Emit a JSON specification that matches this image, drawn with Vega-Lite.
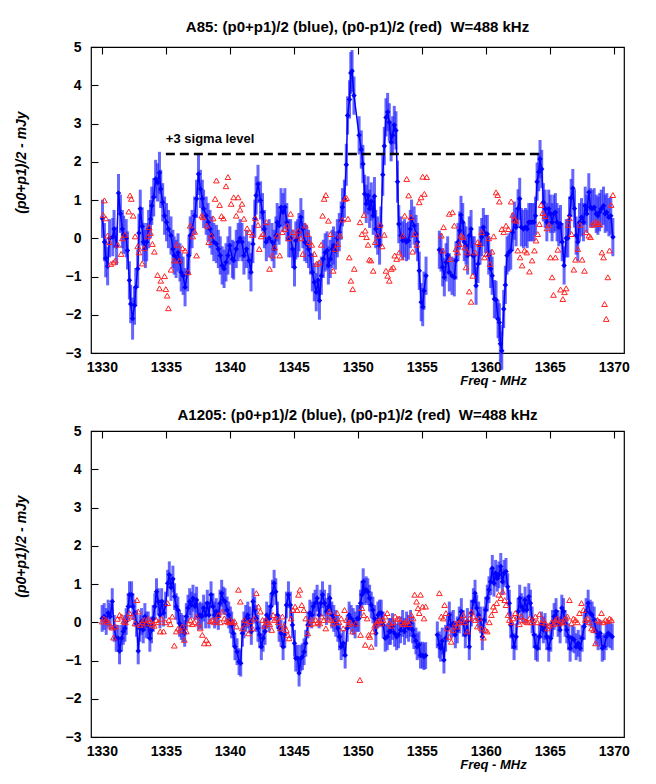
{
"$schema": "https://vega.github.io/schema/vega-lite/v6.json",
"background": "white",
"padding": {"left": 13, "top": 19, "right": 10, "bottom": 5},
"bounds": "flush",
"spacing": 78,
"config": {
  "font": "Liberation Sans",
  "view": {"stroke": "#000", "strokeWidth": 1.2},
  "axis": {"ticks": false, "labelFont": "Liberation Sans", "labelFontSize": 14, "labelFontWeight": "bold", "labelColor": "#000", "domain": false, "grid": true, "gridColor": "#000", "gridOpacity": 1, "gridWidth": 1.1, "labelOverlap": false, "labelFlush": false, "titleFont": "Liberation Sans", "titleFontSize": 13, "titleFontWeight": "bold", "titleFontStyle": "italic", "titleColor": "#000"},
  "title": {"font": "Liberation Sans", "fontSize": 15, "fontWeight": "bold", "color": "#000", "offset": 5, "baseline": "alphabetic"}
},
"datasets": {
"blueA": [
{"f":1330.05,"v":0.51,"e":0.5},{"f":1330.2,"v":-0.1,"e":0.5},{"f":1330.3,"v":-0.52,"e":0.5},{"f":1330.45,"v":-0.73,"e":0.5},{"f":1330.6,"v":0,"e":0.5},{"f":1330.85,"v":0.03,"e":0.5},{"f":1330.95,"v":0.24,"e":0.5},{"f":1331.15,"v":-0.2,"e":0.5},{"f":1331.3,"v":1.18,"e":0.5},{"f":1331.45,"v":0.64,"e":0.5},{"f":1331.6,"v":0.24,"e":0.5},{"f":1331.7,"v":0.09,"e":0.5},{"f":1331.9,"v":0,"e":0.5},{"f":1332.0,"v":-0.32,"e":0.5},{"f":1332.15,"v":-1.1,"e":0.5},{"f":1332.25,"v":-1.72,"e":0.5},{"f":1332.4,"v":-2.1,"e":0.55},{"f":1332.55,"v":-1.76,"e":0.5},{"f":1332.65,"v":-1.28,"e":0.5},{"f":1332.8,"v":-0.8,"e":0.5},{"f":1332.9,"v":0.14,"e":0.5},{"f":1333.0,"v":0.77,"e":0.5},{"f":1333.15,"v":0.31,"e":0.5},{"f":1333.25,"v":-0.1,"e":0.5},{"f":1333.4,"v":-0.28,"e":0.5},{"f":1333.5,"v":-0.1,"e":0.5},{"f":1333.65,"v":0.24,"e":0.5},{"f":1333.8,"v":0.5,"e":0.5},{"f":1333.9,"v":0.85,"e":0.5},{"f":1334.05,"v":1.07,"e":0.5},{"f":1334.2,"v":1.55,"e":0.5},{"f":1334.35,"v":1.46,"e":0.5},{"f":1334.5,"v":1.71,"e":0.55},{"f":1334.6,"v":1.29,"e":0.5},{"f":1334.75,"v":0.94,"e":0.5},{"f":1334.9,"v":0.59,"e":0.5},{"f":1335.05,"v":0.42,"e":0.5},{"f":1335.2,"v":0.24,"e":0.5},{"f":1335.4,"v":0.07,"e":0.5},{"f":1335.55,"v":-0.28,"e":0.5},{"f":1335.65,"v":-0.45,"e":0.5},{"f":1335.8,"v":-0.54,"e":0.5},{"f":1335.95,"v":-0.37,"e":0.5},{"f":1336.1,"v":-0.63,"e":0.5},{"f":1336.2,"v":-0.89,"e":0.5},{"f":1336.35,"v":-0.98,"e":0.5},{"f":1336.5,"v":-1.28,"e":0.5},{"f":1336.7,"v":-0.89,"e":0.5},{"f":1336.8,"v":-0.45,"e":0.5},{"f":1336.9,"v":0.07,"e":0.5},{"f":1337.05,"v":0.24,"e":0.5},{"f":1337.25,"v":0.59,"e":0.5},{"f":1337.4,"v":1.03,"e":0.5},{"f":1337.55,"v":1.68,"e":0.55},{"f":1337.7,"v":1.29,"e":0.5},{"f":1337.85,"v":1.03,"e":0.5},{"f":1337.95,"v":0.77,"e":0.5},{"f":1338.15,"v":0.59,"e":0.5},{"f":1338.3,"v":0.42,"e":0.5},{"f":1338.45,"v":0.24,"e":0.5},{"f":1338.6,"v":0.07,"e":0.5},{"f":1338.75,"v":-0.1,"e":0.5},{"f":1338.95,"v":-0.15,"e":0.5},{"f":1339.1,"v":-0.28,"e":0.5},{"f":1339.25,"v":-0.45,"e":0.5},{"f":1339.4,"v":-0.71,"e":0.5},{"f":1339.55,"v":-0.8,"e":0.5},{"f":1339.7,"v":-0.63,"e":0.5},{"f":1339.85,"v":-0.45,"e":0.5},{"f":1340.0,"v":-0.19,"e":0.5},{"f":1340.2,"v":-0.54,"e":0.5},{"f":1340.3,"v":-0.58,"e":0.5},{"f":1340.5,"v":-0.28,"e":0.5},{"f":1340.65,"v":-0.1,"e":0.5},{"f":1340.8,"v":0,"e":0.5},{"f":1340.95,"v":-0.1,"e":0.5},{"f":1341.1,"v":-0.45,"e":0.5},{"f":1341.3,"v":-0.28,"e":0.5},{"f":1341.5,"v":-0.58,"e":0.5},{"f":1341.65,"v":-0.89,"e":0.5},{"f":1341.8,"v":-0.15,"e":0.5},{"f":1341.95,"v":0.51,"e":0.5},{"f":1342.05,"v":1.12,"e":0.5},{"f":1342.2,"v":1.42,"e":0.5},{"f":1342.4,"v":0.99,"e":0.5},{"f":1342.55,"v":0.68,"e":0.5},{"f":1342.7,"v":0.24,"e":0.5},{"f":1342.85,"v":-0.1,"e":0.5},{"f":1343.07,"v":0,"e":0.5},{"f":1343.3,"v":-0.1,"e":0.5},{"f":1343.45,"v":-0.28,"e":0.5},{"f":1343.6,"v":0.07,"e":0.5},{"f":1343.7,"v":0.42,"e":0.5},{"f":1343.85,"v":0.33,"e":0.5},{"f":1344.0,"v":0.81,"e":0.5},{"f":1344.15,"v":0.68,"e":0.5},{"f":1344.3,"v":0.81,"e":0.5},{"f":1344.45,"v":0.42,"e":0.5},{"f":1344.6,"v":0,"e":0.5},{"f":1344.75,"v":0,"e":0.5},{"f":1344.9,"v":-0.28,"e":0.5},{"f":1345.05,"v":-0.76,"e":0.5},{"f":1345.15,"v":-0.06,"e":0.5},{"f":1345.3,"v":0,"e":0.5},{"f":1345.4,"v":0.16,"e":0.5},{"f":1345.55,"v":0.55,"e":0.5},{"f":1345.7,"v":0.24,"e":0.5},{"f":1345.85,"v":-0.1,"e":0.5},{"f":1346.0,"v":-0.15,"e":0.5},{"f":1346.15,"v":-0.28,"e":0.5},{"f":1346.3,"v":-0.45,"e":0.5},{"f":1346.45,"v":-0.89,"e":0.5},{"f":1346.6,"v":-1.15,"e":0.5},{"f":1346.75,"v":-1.41,"e":0.5},{"f":1346.9,"v":-1.1,"e":0.5},{"f":1347.0,"v":-1.63,"e":0.5},{"f":1347.15,"v":-0.98,"e":0.5},{"f":1347.3,"v":-0.54,"e":0.5},{"f":1347.45,"v":-0.37,"e":0.5},{"f":1347.6,"v":-0.32,"e":0.5},{"f":1347.7,"v":-0.71,"e":0.5},{"f":1347.85,"v":-0.54,"e":0.5},{"f":1348.0,"v":-0.28,"e":0.5},{"f":1348.1,"v":-0.19,"e":0.5},{"f":1348.25,"v":-0.32,"e":0.5},{"f":1348.4,"v":0,"e":0.5},{"f":1348.55,"v":0.16,"e":0.5},{"f":1348.7,"v":0.46,"e":0.5},{"f":1348.8,"v":0.81,"e":0.5},{"f":1348.95,"v":1.03,"e":0.5},{"f":1349.1,"v":1.92,"e":0.55},{"f":1349.2,"v":3.21,"e":0.5},{"f":1349.35,"v":3.63,"e":0.5},{"f":1349.45,"v":4.32,"e":0.55},{"f":1349.55,"v":4.37,"e":0.55},{"f":1349.7,"v":3.73,"e":0.5},{"f":1350.1,"v":2.69,"e":0.5},{"f":1350.27,"v":2.32,"e":0.5},{"f":1350.4,"v":1.94,"e":0.5},{"f":1350.53,"v":1.16,"e":0.5},{"f":1350.66,"v":0.9,"e":0.5},{"f":1350.8,"v":1.12,"e":0.5},{"f":1350.92,"v":0.77,"e":0.5},{"f":1351.05,"v":0.96,"e":0.5},{"f":1351.2,"v":0.59,"e":0.5},{"f":1351.3,"v":1.1,"e":0.5},{"f":1351.4,"v":0.24,"e":0.5},{"f":1351.55,"v":0.07,"e":0.5},{"f":1351.7,"v":-0.19,"e":0.5},{"f":1351.8,"v":0.33,"e":0.5},{"f":1351.95,"v":1.66,"e":0.55},{"f":1352.07,"v":2.41,"e":0.5},{"f":1352.2,"v":3.16,"e":0.5},{"f":1352.33,"v":3.3,"e":0.5},{"f":1352.46,"v":3.03,"e":0.5},{"f":1352.6,"v":2.51,"e":0.5},{"f":1352.72,"v":2.69,"e":0.5},{"f":1352.85,"v":2.96,"e":0.5},{"f":1352.98,"v":2.82,"e":0.5},{"f":1353.1,"v":1.48,"e":0.55},{"f":1353.2,"v":0.37,"e":0.5},{"f":1353.35,"v":0.07,"e":0.5},{"f":1353.5,"v":-0.06,"e":0.5},{"f":1353.65,"v":0,"e":0.5},{"f":1353.8,"v":-0.1,"e":0.5},{"f":1353.95,"v":-0.06,"e":0.5},{"f":1354.1,"v":0.24,"e":0.5},{"f":1354.2,"v":0.51,"e":0.5},{"f":1354.4,"v":0.33,"e":0.5},{"f":1354.55,"v":0.11,"e":0.5},{"f":1354.67,"v":-0.1,"e":0.5},{"f":1354.8,"v":-0.85,"e":0.5},{"f":1354.95,"v":-1.67,"e":0.5},{"f":1355.07,"v":-1.8,"e":0.5},{"f":1355.17,"v":-1.37,"e":0.5},{"f":1355.33,"v":-0.98,"e":0.5},{"f":1355.9,"v":null,"e":null},{"f":1356.37,"v":-0.3,"e":0.5},{"f":1356.5,"v":-0.37,"e":0.5},{"f":1356.63,"v":-0.76,"e":0.5},{"f":1356.76,"v":-1.02,"e":0.5},{"f":1356.9,"v":-0.63,"e":0.5},{"f":1357.02,"v":-0.45,"e":0.5},{"f":1357.15,"v":-0.89,"e":0.5},{"f":1357.36,"v":-0.98,"e":0.5},{"f":1357.54,"v":-1.02,"e":0.5},{"f":1357.67,"v":-0.58,"e":0.5},{"f":1357.83,"v":-0.1,"e":0.5},{"f":1357.96,"v":0.2,"e":0.5},{"f":1358.06,"v":0.61,"e":0.5},{"f":1358.2,"v":0.42,"e":0.5},{"f":1358.32,"v":-0.1,"e":0.5},{"f":1358.45,"v":-0.19,"e":0.5},{"f":1358.58,"v":-0.45,"e":0.5},{"f":1358.71,"v":0.07,"e":0.5},{"f":1358.85,"v":0.24,"e":0.5},{"f":1358.98,"v":-0.45,"e":0.5},{"f":1359.1,"v":-0.45,"e":0.5},{"f":1359.24,"v":-1.24,"e":0.5},{"f":1359.39,"v":-0.67,"e":0.5},{"f":1359.55,"v":-0.19,"e":0.5},{"f":1359.68,"v":0.03,"e":0.5},{"f":1359.81,"v":0.29,"e":0.5},{"f":1359.97,"v":0.11,"e":0.5},{"f":1360.12,"v":0.11,"e":0.5},{"f":1360.23,"v":-0.45,"e":0.5},{"f":1360.38,"v":-0.8,"e":0.5},{"f":1360.5,"v":-0.98,"e":0.5},{"f":1360.67,"v":-1.59,"e":0.5},{"f":1360.8,"v":-1.61,"e":0.5},{"f":1360.96,"v":-2.11,"e":0.5},{"f":1361.06,"v":-2.2,"e":0.5},{"f":1361.14,"v":-2.76,"e":0.5},{"f":1361.25,"v":-2.94,"e":0.5},{"f":1361.4,"v":-1.85,"e":0.5},{"f":1361.53,"v":-1.22,"e":0.5},{"f":1361.66,"v":-0.45,"e":0.5},{"f":1361.8,"v":-0.37,"e":0.5},{"f":1361.95,"v":-0.32,"e":0.5},{"f":1362.1,"v":0.16,"e":0.5},{"f":1362.24,"v":0.46,"e":0.5},{"f":1362.37,"v":0.29,"e":0.5},{"f":1362.52,"v":0.78,"e":0.5},{"f":1362.65,"v":1.03,"e":0.55},{"f":1362.78,"v":0.29,"e":0.5},{"f":1362.94,"v":0.24,"e":0.5},{"f":1363.1,"v":0.29,"e":0.5},{"f":1363.23,"v":0.24,"e":0.5},{"f":1363.36,"v":0.42,"e":0.5},{"f":1363.49,"v":0.42,"e":0.5},{"f":1363.62,"v":0.42,"e":0.5},{"f":1363.77,"v":0.42,"e":0.5},{"f":1363.88,"v":0.59,"e":0.5},{"f":1364.01,"v":1.48,"e":0.5},{"f":1364.14,"v":1.73,"e":0.5},{"f":1364.24,"v":2.07,"e":0.5},{"f":1364.37,"v":1.81,"e":0.5},{"f":1364.5,"v":0.94,"e":0.5},{"f":1364.64,"v":0.77,"e":0.5},{"f":1364.77,"v":0.42,"e":0.5},{"f":1364.92,"v":0.77,"e":0.5},{"f":1365.05,"v":0.64,"e":0.5},{"f":1365.18,"v":0.42,"e":0.5},{"f":1365.31,"v":0.64,"e":0.5},{"f":1365.44,"v":0.68,"e":0.5},{"f":1365.57,"v":0.42,"e":0.5},{"f":1365.7,"v":0.29,"e":0.5},{"f":1365.84,"v":0.37,"e":0.5},{"f":1365.97,"v":-0.1,"e":0.5},{"f":1366.12,"v":-0.71,"e":0.5},{"f":1366.28,"v":0,"e":0.5},{"f":1366.41,"v":0,"e":0.5},{"f":1366.54,"v":0.59,"e":0.5},{"f":1366.67,"v":1.05,"e":0.5},{"f":1366.8,"v":1.31,"e":0.5},{"f":1366.93,"v":0.78,"e":0.5},{"f":1367.06,"v":0.07,"e":0.5},{"f":1367.19,"v":-0.1,"e":0.5},{"f":1367.32,"v":0.42,"e":0.5},{"f":1367.48,"v":0.55,"e":0.5},{"f":1367.63,"v":0.42,"e":0.5},{"f":1367.77,"v":0.85,"e":0.5},{"f":1367.9,"v":0.64,"e":0.5},{"f":1368.05,"v":1.2,"e":0.5},{"f":1368.18,"v":0.81,"e":0.5},{"f":1368.31,"v":0.77,"e":0.5},{"f":1368.47,"v":0.81,"e":0.5},{"f":1368.63,"v":0.64,"e":0.5},{"f":1368.76,"v":0.59,"e":0.5},{"f":1368.89,"v":0.68,"e":0.5},{"f":1369.02,"v":0.77,"e":0.5},{"f":1369.2,"v":0.85,"e":0.5},{"f":1369.33,"v":0.64,"e":0.5},{"f":1369.46,"v":0.68,"e":0.5},{"f":1369.62,"v":0.55,"e":0.5},{"f":1369.77,"v":0.59,"e":0.5},{"f":1369.93,"v":0.03,"e":0.5}
],
"redA": [
{"f":1330.1,"v":0.61},{"f":1330.2,"v":0.99},{"f":1330.3,"v":0.52},{"f":1330.45,"v":0.07},{"f":1330.6,"v":-0.1},{"f":1330.7,"v":-0.67},{"f":1330.9,"v":-0.63},{"f":1331.05,"v":-0.58},{"f":1331.25,"v":-0.17},{"f":1331.5,"v":-0.41},{"f":1331.6,"v":0},{"f":1331.8,"v":0.09},{"f":1332.1,"v":0.7},{"f":1332.2,"v":1.12},{"f":1332.3,"v":1.03},{"f":1332.45,"v":0.59},{"f":1332.6,"v":0.05},{"f":1332.8,"v":-0.21},{"f":1332.9,"v":-0.37},{"f":1333.15,"v":-0.66},{"f":1333.3,"v":-0.26},{"f":1333.6,"v":0.05},{"f":1333.7,"v":0.29},{"f":1333.8,"v":0.14},{"f":1333.95,"v":-0.15},{"f":1334.1,"v":-0.35},{"f":1334.35,"v":-0.96},{"f":1334.5,"v":-1.31},{"f":1334.6,"v":-1.11},{"f":1334.9,"v":-0.99},{"f":1335.0,"v":-1.33},{"f":1335.1,"v":-1.5},{"f":1335.2,"v":-1.83},{"f":1335.4,"v":-0.82},{"f":1335.65,"v":-0.58},{"f":1335.85,"v":-0.17},{"f":1336.05,"v":-0.58},{"f":1336.3,"v":-0.26},{"f":1336.5,"v":-0.32},{"f":1336.75,"v":-0.89},{"f":1336.9,"v":0.33},{"f":1337.1,"v":0.05},{"f":1337.25,"v":0.17},{"f":1337.4,"v":-0.45},{"f":1337.8,"v":0.59},{"f":1337.9,"v":0.55},{"f":1338.2,"v":0.33},{"f":1338.35,"v":-0.1},{"f":1338.55,"v":0.07},{"f":1338.7,"v":0.52},{"f":1338.85,"v":1.03},{"f":1338.95,"v":1.51},{"f":1339.2,"v":0.87},{"f":1339.35,"v":0.58},{"f":1339.5,"v":0.52},{"f":1339.7,"v":1.36},{"f":1339.85,"v":1.6},{"f":1340.1,"v":0.9},{"f":1340.3,"v":1.07},{"f":1340.5,"v":0.59},{"f":1340.65,"v":1.07},{"f":1340.8,"v":0.75},{"f":1340.95,"v":0.9},{"f":1341.1,"v":0.51},{"f":1341.35,"v":0.26},{"f":1341.55,"v":0.16},{"f":1341.75,"v":0.09},{"f":1342.0,"v":0.52},{"f":1342.2,"v":0.35},{"f":1342.3,"v":-0.28},{"f":1342.45,"v":0.05},{"f":1342.6,"v":0.11},{"f":1342.85,"v":0.42},{"f":1343.1,"v":-0.8},{"f":1343.33,"v":-0.45},{"f":1343.5,"v":-0.24},{"f":1343.7,"v":0.07},{"f":1343.9,"v":-0.45},{"f":1344.1,"v":0.16},{"f":1344.3,"v":0.24},{"f":1344.5,"v":0.33},{"f":1344.6,"v":0},{"f":1344.75,"v":0.64},{"f":1344.95,"v":0.16},{"f":1345.15,"v":0.07},{"f":1345.35,"v":0.2},{"f":1345.55,"v":0},{"f":1345.7,"v":-0.41},{"f":1345.9,"v":0.33},{"f":1346.07,"v":0.11},{"f":1346.2,"v":-0.1},{"f":1346.4,"v":-0.17},{"f":1346.6,"v":-0.41},{"f":1346.77,"v":-0.67},{"f":1346.98,"v":-0.63},{"f":1347.14,"v":-0.17},{"f":1347.25,"v":0.59},{"f":1347.37,"v":1.03},{"f":1347.5,"v":1.13},{"f":1347.7,"v":0.46},{"f":1347.87,"v":0.11},{"f":1348.08,"v":-0.85},{"f":1348.24,"v":-0.28},{"f":1348.42,"v":-0.15},{"f":1348.6,"v":0.07},{"f":1348.8,"v":0.49},{"f":1349.0,"v":1.03},{"f":1349.12,"v":1.05},{"f":1349.23,"v":0.51},{"f":1349.33,"v":-0.5},{"f":1349.46,"v":-1.11},{"f":1349.6,"v":-1.33},{"f":1349.72,"v":-0.8},{"f":1350.17,"v":0.42},{"f":1350.32,"v":0.11},{"f":1350.48,"v":0.61},{"f":1350.58,"v":0.2},{"f":1350.68,"v":0.03},{"f":1350.8,"v":-0.17},{"f":1350.9,"v":-0.56},{"f":1351.03,"v":-0.58},{"f":1351.2,"v":-0.85},{"f":1351.36,"v":-0.1},{"f":1351.55,"v":0.07},{"f":1351.73,"v":0.35},{"f":1351.9,"v":-0.21},{"f":1352.07,"v":0.09},{"f":1352.2,"v":-0.85},{"f":1352.33,"v":-0.98},{"f":1352.46,"v":-1.11},{"f":1352.62,"v":-0.8},{"f":1352.77,"v":-0.76},{"f":1352.88,"v":-0.45},{"f":1353.03,"v":-0.54},{"f":1353.24,"v":-0.37},{"f":1353.4,"v":-0.5},{"f":1353.5,"v":0.07},{"f":1353.66,"v":0.59},{"f":1353.82,"v":1.55},{"f":1353.97,"v":1.12},{"f":1354.15,"v":0.55},{"f":1354.28,"v":-0.35},{"f":1354.44,"v":0.11},{"f":1354.6,"v":-0.17},{"f":1354.8,"v":0.94},{"f":1354.94,"v":1.07},{"f":1355.07,"v":1.61},{"f":1355.2,"v":1.16},{"f":1355.38,"v":1.6},{"f":1356.53,"v":0.07},{"f":1356.63,"v":-0.32},{"f":1356.7,"v":0.29},{"f":1357.15,"v":0.64},{"f":1357.22,"v":-0.54},{"f":1357.4,"v":0.68},{"f":1357.54,"v":0.33},{"f":1357.67,"v":-0.28},{"f":1357.8,"v":-0.37},{"f":1357.93,"v":-0.15},{"f":1358.06,"v":0.07},{"f":1358.2,"v":0.03},{"f":1358.35,"v":-0.24},{"f":1358.45,"v":-0.76},{"f":1358.58,"v":-0.37},{"f":1358.71,"v":-1.39},{"f":1358.85,"v":-1.66},{"f":1358.98,"v":-0.98},{"f":1359.18,"v":-0.37},{"f":1359.37,"v":-0.1},{"f":1359.5,"v":-0.15},{"f":1359.68,"v":0.16},{"f":1359.89,"v":-0.5},{"f":1360.07,"v":-0.41},{"f":1360.23,"v":0},{"f":1360.33,"v":-0.67},{"f":1360.49,"v":-0.35},{"f":1360.62,"v":0.05},{"f":1360.8,"v":1.2},{"f":1360.93,"v":1.13},{"f":1361.06,"v":0.96},{"f":1361.25,"v":0.24},{"f":1361.4,"v":0.16},{"f":1361.58,"v":0.33},{"f":1361.77,"v":0.24},{"f":1361.98,"v":0.96},{"f":1362.1,"v":0.61},{"f":1362.24,"v":0.49},{"f":1362.37,"v":0.46},{"f":1362.5,"v":-0.32},{"f":1362.68,"v":-0.5},{"f":1362.84,"v":-0.71},{"f":1363.02,"v":-0.32},{"f":1363.2,"v":-0.37},{"f":1363.41,"v":-0.87},{"f":1363.62,"v":-0.58},{"f":1363.8,"v":-0.32},{"f":1363.93,"v":-0.06},{"f":1364.06,"v":0.11},{"f":1364.19,"v":0.37},{"f":1364.32,"v":0.87},{"f":1364.45,"v":0.66},{"f":1364.61,"v":0.58},{"f":1364.77,"v":0.26},{"f":1364.92,"v":0.35},{"f":1365.05,"v":-0.5},{"f":1365.18,"v":-1.02},{"f":1365.29,"v":-1.48},{"f":1365.44,"v":-0.5},{"f":1365.63,"v":-0.3},{"f":1365.84,"v":-1.34},{"f":1366.02,"v":-1.59},{"f":1366.15,"v":-1.41},{"f":1366.28,"v":-1.31},{"f":1366.44,"v":0.35},{"f":1366.54,"v":0.52},{"f":1366.7,"v":0.11},{"f":1366.88,"v":-0.82},{"f":1367.01,"v":-0.56},{"f":1367.19,"v":-0.28},{"f":1367.37,"v":0.35},{"f":1367.53,"v":-0.56},{"f":1367.71,"v":-0.85},{"f":1367.84,"v":0.16},{"f":1368.05,"v":0.07},{"f":1368.18,"v":0.03},{"f":1368.31,"v":0.35},{"f":1368.5,"v":0.42},{"f":1368.63,"v":0.37},{"f":1368.76,"v":0.42},{"f":1368.89,"v":0.37},{"f":1369.07,"v":-0.37},{"f":1369.2,"v":-0.5},{"f":1369.28,"v":-1.72},{"f":1369.41,"v":-2.11},{"f":1369.54,"v":-1.02},{"f":1369.67,"v":-0.32},{"f":1369.8,"v":0.87},{"f":1369.93,"v":1.13}
],
"blueB": [
{"f":1330.02,"v":0.1,"e":0.35},{"f":1330.18,"v":0.15,"e":0.35},{"f":1330.34,"v":0.02,"e":0.35},{"f":1330.49,"v":0.24,"e":0.35},{"f":1330.65,"v":0.15,"e":0.35},{"f":1330.81,"v":0.54,"e":0.35},{"f":1330.96,"v":-0.16,"e":0.35},{"f":1331.12,"v":-0.42,"e":0.35},{"f":1331.28,"v":-0.42,"e":0.35},{"f":1331.38,"v":-0.75,"e":0.35},{"f":1331.54,"v":-0.42,"e":0.35},{"f":1331.67,"v":-0.24,"e":0.35},{"f":1331.8,"v":-0.16,"e":0.35},{"f":1331.9,"v":0.02,"e":0.35},{"f":1332.06,"v":0.41,"e":0.35},{"f":1332.16,"v":0.72,"e":0.35},{"f":1332.32,"v":0.72,"e":0.35},{"f":1332.42,"v":0.41,"e":0.35},{"f":1332.58,"v":0.24,"e":0.35},{"f":1332.71,"v":-0.03,"e":0.35},{"f":1332.84,"v":-0.75,"e":0.35},{"f":1332.97,"v":-0.16,"e":0.35},{"f":1333.1,"v":0.02,"e":0.35},{"f":1333.23,"v":-0.2,"e":0.35},{"f":1333.36,"v":0.15,"e":0.35},{"f":1333.47,"v":-0.07,"e":0.35},{"f":1333.62,"v":-0.07,"e":0.35},{"f":1333.75,"v":-0.42,"e":0.35},{"f":1333.88,"v":-0.2,"e":0.35},{"f":1334.01,"v":0.1,"e":0.35},{"f":1334.14,"v":0.41,"e":0.35},{"f":1334.27,"v":0.8,"e":0.35},{"f":1334.41,"v":0.54,"e":0.35},{"f":1334.54,"v":0.19,"e":0.35},{"f":1334.67,"v":0.54,"e":0.35},{"f":1334.82,"v":0.24,"e":0.35},{"f":1334.98,"v":0.45,"e":0.35},{"f":1335.14,"v":1.02,"e":0.35},{"f":1335.27,"v":1.24,"e":0.35},{"f":1335.4,"v":0.91,"e":0.35},{"f":1335.55,"v":1.13,"e":0.35},{"f":1335.68,"v":0.67,"e":0.35},{"f":1335.81,"v":0.41,"e":0.35},{"f":1335.94,"v":0.32,"e":0.35},{"f":1336.07,"v":-0.03,"e":0.35},{"f":1336.2,"v":-0.11,"e":0.35},{"f":1336.34,"v":-0.16,"e":0.35},{"f":1336.47,"v":-0.29,"e":0.35},{"f":1336.6,"v":0.15,"e":0.35},{"f":1336.73,"v":0.37,"e":0.35},{"f":1336.86,"v":0.54,"e":0.35},{"f":1336.99,"v":0.45,"e":0.35},{"f":1337.12,"v":0.63,"e":0.35},{"f":1337.28,"v":0.41,"e":0.35},{"f":1337.4,"v":0.58,"e":0.35},{"f":1337.54,"v":0.15,"e":0.35},{"f":1337.67,"v":0.19,"e":0.35},{"f":1337.8,"v":0.15,"e":0.35},{"f":1337.95,"v":0.37,"e":0.35},{"f":1338.11,"v":0.19,"e":0.35},{"f":1338.24,"v":0.5,"e":0.35},{"f":1338.37,"v":0.19,"e":0.35},{"f":1338.53,"v":0.72,"e":0.35},{"f":1338.68,"v":0.41,"e":0.35},{"f":1338.81,"v":0.19,"e":0.35},{"f":1338.94,"v":0.28,"e":0.35},{"f":1339.1,"v":0.15,"e":0.35},{"f":1339.23,"v":0.5,"e":0.35},{"f":1339.36,"v":0.76,"e":0.35},{"f":1339.49,"v":0.58,"e":0.35},{"f":1339.62,"v":0.54,"e":0.35},{"f":1339.78,"v":0.32,"e":0.35},{"f":1339.91,"v":0.19,"e":0.35},{"f":1340.04,"v":0.06,"e":0.35},{"f":1340.14,"v":-0.07,"e":0.35},{"f":1340.28,"v":-0.29,"e":0.35},{"f":1340.4,"v":-0.64,"e":0.35},{"f":1340.56,"v":-0.77,"e":0.35},{"f":1340.72,"v":-1.03,"e":0.35},{"f":1340.85,"v":-1.07,"e":0.35},{"f":1340.98,"v":-0.29,"e":0.35},{"f":1341.1,"v":-0.07,"e":0.35},{"f":1341.24,"v":0.1,"e":0.35},{"f":1341.4,"v":0.19,"e":0.35},{"f":1341.55,"v":0.06,"e":0.35},{"f":1341.68,"v":-0.24,"e":0.35},{"f":1341.81,"v":0.54,"e":0.35},{"f":1341.94,"v":0.32,"e":0.35},{"f":1342.07,"v":0.1,"e":0.35},{"f":1342.2,"v":-0.16,"e":0.35},{"f":1342.33,"v":-0.33,"e":0.35},{"f":1342.46,"v":-0.64,"e":0.35},{"f":1342.6,"v":-0.42,"e":0.35},{"f":1342.75,"v":-0.24,"e":0.35},{"f":1342.88,"v":0.19,"e":0.35},{"f":1343.06,"v":0.1,"e":0.35},{"f":1343.2,"v":0.41,"e":0.35},{"f":1343.33,"v":0.76,"e":0.35},{"f":1343.46,"v":1.02,"e":0.35},{"f":1343.59,"v":0.8,"e":0.35},{"f":1343.72,"v":0.19,"e":0.35},{"f":1343.85,"v":-0.16,"e":0.35},{"f":1344.0,"v":-0.29,"e":0.35},{"f":1344.16,"v":-0.64,"e":0.35},{"f":1344.29,"v":-0.33,"e":0.35},{"f":1344.42,"v":0.45,"e":0.35},{"f":1344.58,"v":0.72,"e":0.35},{"f":1344.73,"v":0.45,"e":0.35},{"f":1344.89,"v":-0.07,"e":0.35},{"f":1345.05,"v":-0.55,"e":0.35},{"f":1345.15,"v":-0.94,"e":0.35},{"f":1345.31,"v":-0.94,"e":0.35},{"f":1345.41,"v":-1.33,"e":0.35},{"f":1345.54,"v":-0.94,"e":0.35},{"f":1345.67,"v":-0.9,"e":0.35},{"f":1345.8,"v":-0.77,"e":0.35},{"f":1345.93,"v":-0.55,"e":0.35},{"f":1346.09,"v":-0.07,"e":0.35},{"f":1346.25,"v":0.24,"e":0.35},{"f":1346.4,"v":0.19,"e":0.35},{"f":1346.53,"v":0.41,"e":0.35},{"f":1346.66,"v":0.5,"e":0.35},{"f":1346.82,"v":0.63,"e":0.35},{"f":1346.98,"v":0.19,"e":0.35},{"f":1347.11,"v":0.5,"e":0.35},{"f":1347.24,"v":0.72,"e":0.35},{"f":1347.4,"v":0.5,"e":0.35},{"f":1347.55,"v":0.28,"e":0.35},{"f":1347.71,"v":0.41,"e":0.35},{"f":1347.81,"v":0.63,"e":0.35},{"f":1347.97,"v":0.19,"e":0.35},{"f":1348.12,"v":0.1,"e":0.35},{"f":1348.28,"v":-0.03,"e":0.35},{"f":1348.44,"v":-0.16,"e":0.35},{"f":1348.57,"v":-0.38,"e":0.35},{"f":1348.7,"v":-0.64,"e":0.35},{"f":1348.86,"v":-0.55,"e":0.35},{"f":1349.01,"v":-0.86,"e":0.35},{"f":1349.17,"v":-0.16,"e":0.35},{"f":1349.32,"v":0.19,"e":0.35},{"f":1349.48,"v":0.1,"e":0.35},{"f":1349.64,"v":0.02,"e":0.35},{"f":1349.79,"v":-0.07,"e":0.35},{"f":1349.95,"v":0.1,"e":0.35},{"f":1350.08,"v":0.1,"e":0.35},{"f":1350.21,"v":0.5,"e":0.35},{"f":1350.32,"v":0.72,"e":0.35},{"f":1350.42,"v":1.06,"e":0.35},{"f":1350.52,"v":0.8,"e":0.35},{"f":1350.65,"v":0.85,"e":0.35},{"f":1350.78,"v":0.8,"e":0.35},{"f":1350.92,"v":0.63,"e":0.35},{"f":1351.05,"v":0.45,"e":0.35},{"f":1351.18,"v":0.32,"e":0.35},{"f":1351.31,"v":0.1,"e":0.35},{"f":1351.41,"v":-0.29,"e":0.35},{"f":1351.57,"v":0.19,"e":0.35},{"f":1351.7,"v":0.24,"e":0.35},{"f":1351.83,"v":0.24,"e":0.35},{"f":1351.98,"v":-0.07,"e":0.35},{"f":1352.14,"v":-0.42,"e":0.35},{"f":1352.3,"v":-0.38,"e":0.35},{"f":1352.45,"v":-0.24,"e":0.35},{"f":1352.56,"v":-0.24,"e":0.35},{"f":1352.71,"v":-0.11,"e":0.35},{"f":1352.87,"v":-0.29,"e":0.35},{"f":1353.03,"v":-0.38,"e":0.35},{"f":1353.18,"v":-0.33,"e":0.35},{"f":1353.34,"v":-0.2,"e":0.35},{"f":1353.5,"v":-0.03,"e":0.35},{"f":1353.65,"v":-0.24,"e":0.35},{"f":1353.81,"v":-0.07,"e":0.35},{"f":1353.97,"v":-0.16,"e":0.35},{"f":1354.12,"v":-0.03,"e":0.35},{"f":1354.28,"v":-0.2,"e":0.35},{"f":1354.38,"v":-0.35,"e":0.35},{"f":1354.54,"v":-0.49,"e":0.35},{"f":1354.64,"v":-0.64,"e":0.35},{"f":1354.78,"v":-0.59,"e":0.35},{"f":1354.9,"v":-0.86,"e":0.35},{"f":1355.06,"v":-0.86,"e":0.35},{"f":1355.17,"v":-0.9,"e":0.35},{"f":1355.3,"v":-0.87,"e":0.35},{"f":1355.75,"v":null,"e":null},{"f":1356.21,"v":-0.33,"e":0.35},{"f":1356.37,"v":-0.59,"e":0.35},{"f":1356.47,"v":-0.68,"e":0.35},{"f":1356.6,"v":-0.49,"e":0.35},{"f":1356.73,"v":-0.99,"e":0.35},{"f":1356.86,"v":-0.42,"e":0.35},{"f":1357.0,"v":-0.16,"e":0.35},{"f":1357.15,"v":0.19,"e":0.35},{"f":1357.3,"v":-0.07,"e":0.35},{"f":1357.46,"v":-0.03,"e":0.35},{"f":1357.62,"v":-0.33,"e":0.35},{"f":1357.77,"v":-0.2,"e":0.35},{"f":1357.93,"v":0.06,"e":0.35},{"f":1358.09,"v":0.28,"e":0.35},{"f":1358.24,"v":-0.03,"e":0.35},{"f":1358.4,"v":-0.33,"e":0.35},{"f":1358.56,"v":0.02,"e":0.35},{"f":1358.71,"v":-0.64,"e":0.35},{"f":1358.87,"v":0.24,"e":0.35},{"f":1359.03,"v":0.54,"e":0.35},{"f":1359.16,"v":0.76,"e":0.35},{"f":1359.29,"v":0.37,"e":0.35},{"f":1359.44,"v":0.19,"e":0.35},{"f":1359.6,"v":0.06,"e":0.35},{"f":1359.73,"v":-0.38,"e":0.35},{"f":1359.86,"v":0.06,"e":0.35},{"f":1359.99,"v":0.32,"e":0.35},{"f":1360.12,"v":0.63,"e":0.35},{"f":1360.25,"v":0.85,"e":0.35},{"f":1360.38,"v":1.06,"e":0.35},{"f":1360.51,"v":1.41,"e":0.35},{"f":1360.64,"v":1.02,"e":0.35},{"f":1360.77,"v":1.28,"e":0.35},{"f":1360.9,"v":1.15,"e":0.35},{"f":1361.03,"v":1.24,"e":0.35},{"f":1361.17,"v":1.46,"e":0.35},{"f":1361.3,"v":1.06,"e":0.35},{"f":1361.43,"v":1.28,"e":0.35},{"f":1361.58,"v":1.33,"e":0.35},{"f":1361.71,"v":0.93,"e":0.35},{"f":1361.84,"v":0.5,"e":0.35},{"f":1361.95,"v":-0.07,"e":0.35},{"f":1362.08,"v":-0.35,"e":0.35},{"f":1362.21,"v":-0.64,"e":0.35},{"f":1362.37,"v":-0.38,"e":0.35},{"f":1362.52,"v":0.28,"e":0.35},{"f":1362.65,"v":0.63,"e":0.35},{"f":1362.78,"v":0.41,"e":0.35},{"f":1362.94,"v":0.32,"e":0.35},{"f":1363.07,"v":0.58,"e":0.35},{"f":1363.2,"v":0.32,"e":0.35},{"f":1363.36,"v":0.67,"e":0.35},{"f":1363.49,"v":0.5,"e":0.35},{"f":1363.62,"v":0.06,"e":0.35},{"f":1363.77,"v":-0.33,"e":0.35},{"f":1363.9,"v":-0.64,"e":0.35},{"f":1364.03,"v":-0.68,"e":0.35},{"f":1364.19,"v":-0.38,"e":0.35},{"f":1364.35,"v":-0.07,"e":0.35},{"f":1364.5,"v":-0.2,"e":0.35},{"f":1364.63,"v":-0.11,"e":0.35},{"f":1364.76,"v":-0.38,"e":0.35},{"f":1364.92,"v":-0.68,"e":0.35},{"f":1365.08,"v":-0.42,"e":0.35},{"f":1365.21,"v":-0.03,"e":0.35},{"f":1365.34,"v":0.15,"e":0.35},{"f":1365.49,"v":0.28,"e":0.35},{"f":1365.65,"v":-0.03,"e":0.35},{"f":1365.81,"v":-0.2,"e":0.35},{"f":1365.94,"v":0.37,"e":0.35},{"f":1366.07,"v":0.28,"e":0.35},{"f":1366.2,"v":-0.03,"e":0.35},{"f":1366.33,"v":-0.2,"e":0.35},{"f":1366.46,"v":-0.38,"e":0.35},{"f":1366.59,"v":-0.68,"e":0.35},{"f":1366.75,"v":-0.42,"e":0.35},{"f":1366.9,"v":-0.46,"e":0.35},{"f":1367.06,"v":-0.64,"e":0.35},{"f":1367.22,"v":-0.55,"e":0.35},{"f":1367.37,"v":-0.68,"e":0.35},{"f":1367.53,"v":-0.42,"e":0.35},{"f":1367.69,"v":-0.11,"e":0.35},{"f":1367.84,"v":0.28,"e":0.35},{"f":1368.0,"v":0.5,"e":0.35},{"f":1368.16,"v":0.24,"e":0.35},{"f":1368.31,"v":0.19,"e":0.35},{"f":1368.47,"v":0.06,"e":0.35},{"f":1368.62,"v":-0.24,"e":0.35},{"f":1368.78,"v":-0.38,"e":0.35},{"f":1368.94,"v":-0.29,"e":0.35},{"f":1369.1,"v":-0.68,"e":0.35},{"f":1369.25,"v":-0.64,"e":0.35},{"f":1369.41,"v":-0.38,"e":0.35},{"f":1369.56,"v":-0.29,"e":0.35},{"f":1369.72,"v":-0.33,"e":0.35},{"f":1369.88,"v":-0.38,"e":0.35}
],
"redB": [
{"f":1330.02,"v":0.02},{"f":1330.15,"v":0.1},{"f":1330.34,"v":0.06},{"f":1330.49,"v":0},{"f":1330.65,"v":-0.09},{"f":1330.81,"v":-0.14},{"f":1330.91,"v":-0.4},{"f":1331.07,"v":-0.11},{"f":1331.22,"v":0.09},{"f":1331.38,"v":0.19},{"f":1331.54,"v":0.15},{"f":1331.7,"v":0.02},{"f":1331.85,"v":0},{"f":1332.0,"v":0.1},{"f":1332.16,"v":0.24},{"f":1332.37,"v":0.15},{"f":1332.58,"v":-0.03},{"f":1332.74,"v":0.58},{"f":1332.84,"v":0.28},{"f":1333.0,"v":-0.07},{"f":1333.15,"v":0},{"f":1333.31,"v":0.06},{"f":1333.47,"v":-0.03},{"f":1333.62,"v":0.09},{"f":1333.78,"v":0.03},{"f":1333.94,"v":-0.05},{"f":1334.09,"v":-0.09},{"f":1334.25,"v":0.06},{"f":1334.41,"v":0},{"f":1334.56,"v":-0.24},{"f":1334.67,"v":0.09},{"f":1334.82,"v":-0.24},{"f":1334.98,"v":0},{"f":1335.14,"v":0.5},{"f":1335.24,"v":0.06},{"f":1335.35,"v":-0.05},{"f":1335.5,"v":0.15},{"f":1335.66,"v":-0.61},{"f":1335.81,"v":-0.24},{"f":1335.97,"v":-0.16},{"f":1336.13,"v":-0.2},{"f":1336.28,"v":-0.11},{"f":1336.44,"v":-0.46},{"f":1336.6,"v":-0.24},{"f":1336.75,"v":-0.03},{"f":1336.91,"v":0.06},{"f":1337.07,"v":-0.05},{"f":1337.22,"v":0},{"f":1337.38,"v":0.15},{"f":1337.54,"v":-0.03},{"f":1337.69,"v":-0.16},{"f":1337.85,"v":-0.33},{"f":1338.0,"v":-0.55},{"f":1338.16,"v":-0.46},{"f":1338.32,"v":-0.55},{"f":1338.47,"v":0.03},{"f":1338.63,"v":0.06},{"f":1338.79,"v":0},{"f":1338.94,"v":0.06},{"f":1339.1,"v":0.19},{"f":1339.26,"v":0},{"f":1339.41,"v":0.28},{"f":1339.57,"v":0.1},{"f":1339.73,"v":0.03},{"f":1339.88,"v":0},{"f":1340.04,"v":0.06},{"f":1340.2,"v":0},{"f":1340.35,"v":0.03},{"f":1340.51,"v":-0.11},{"f":1340.67,"v":0.85},{"f":1340.82,"v":0.54},{"f":1340.98,"v":-0.16},{"f":1341.14,"v":0.06},{"f":1341.29,"v":-0.03},{"f":1341.45,"v":-0.29},{"f":1341.6,"v":0.03},{"f":1341.76,"v":-0.16},{"f":1341.92,"v":0.1},{"f":1342.07,"v":0.76},{"f":1342.23,"v":0.41},{"f":1342.39,"v":0.28},{"f":1342.55,"v":0.06},{"f":1342.7,"v":-0.09},{"f":1342.81,"v":0.06},{"f":1342.96,"v":0},{"f":1343.12,"v":-0.05},{"f":1343.27,"v":-0.2},{"f":1343.38,"v":0.19},{"f":1343.48,"v":0.06},{"f":1343.64,"v":0.1},{"f":1343.79,"v":0},{"f":1343.95,"v":-0.16},{"f":1344.11,"v":0.15},{"f":1344.26,"v":-0.09},{"f":1344.42,"v":-0.2},{"f":1344.53,"v":-0.33},{"f":1344.63,"v":-0.42},{"f":1344.79,"v":0.1},{"f":1344.94,"v":0.32},{"f":1345.1,"v":0.41},{"f":1345.26,"v":0.32},{"f":1345.36,"v":0.72},{"f":1345.47,"v":0.85},{"f":1345.62,"v":0.45},{"f":1345.78,"v":0.32},{"f":1345.93,"v":0.1},{"f":1346.09,"v":-0.29},{"f":1346.25,"v":-0.05},{"f":1346.4,"v":0.06},{"f":1346.56,"v":-0.03},{"f":1346.71,"v":0.06},{"f":1346.87,"v":0},{"f":1347.03,"v":-0.03},{"f":1347.18,"v":0.15},{"f":1347.34,"v":0.06},{"f":1347.5,"v":-0.16},{"f":1347.65,"v":0.1},{"f":1347.76,"v":0.28},{"f":1347.92,"v":0.06},{"f":1348.07,"v":-0.03},{"f":1348.23,"v":0.06},{"f":1348.39,"v":0.24},{"f":1348.54,"v":0},{"f":1348.7,"v":0.1},{"f":1348.86,"v":-0.16},{"f":1348.96,"v":0.32},{"f":1349.12,"v":0.06},{"f":1349.28,"v":-0.05},{"f":1349.43,"v":0},{"f":1349.59,"v":-0.24},{"f":1349.85,"v":-0.03},{"f":1350.16,"v":-1.51},{"f":1350.21,"v":-0.33},{"f":1350.32,"v":0.37},{"f":1350.47,"v":0.19},{"f":1350.58,"v":-0.59},{"f":1350.73,"v":0.1},{"f":1350.84,"v":-0.33},{"f":1350.94,"v":-0.38},{"f":1351.05,"v":-0.64},{"f":1351.15,"v":-0.24},{"f":1351.31,"v":-0.09},{"f":1351.41,"v":-0.03},{"f":1351.57,"v":0.03},{"f":1351.72,"v":0.06},{"f":1351.83,"v":-0.03},{"f":1351.98,"v":0.06},{"f":1352.14,"v":0.15},{"f":1352.3,"v":0.24},{"f":1352.45,"v":-0.03},{"f":1352.61,"v":-0.09},{"f":1352.77,"v":0},{"f":1352.92,"v":0.15},{"f":1353.08,"v":0.09},{"f":1353.24,"v":0.1},{"f":1353.39,"v":0},{"f":1353.55,"v":-0.05},{"f":1353.71,"v":0},{"f":1353.86,"v":0.03},{"f":1354.02,"v":-0.05},{"f":1354.18,"v":0.19},{"f":1354.33,"v":0.1},{"f":1354.44,"v":0.72},{"f":1354.59,"v":0.54},{"f":1354.7,"v":0.37},{"f":1354.8,"v":0.24},{"f":1354.9,"v":0.72},{"f":1355.06,"v":0.41},{"f":1355.17,"v":0.1},{"f":1355.3,"v":0.41},{"f":1356.37,"v":0.76},{"f":1356.52,"v":0.15},{"f":1356.68,"v":0.1},{"f":1356.78,"v":0.45},{"f":1356.89,"v":0.24},{"f":1357.0,"v":-0.16},{"f":1357.15,"v":-0.38},{"f":1357.3,"v":-0.51},{"f":1357.46,"v":-0.2},{"f":1357.62,"v":-0.03},{"f":1357.77,"v":-0.11},{"f":1357.93,"v":0},{"f":1358.09,"v":0.06},{"f":1358.24,"v":0.19},{"f":1358.4,"v":0},{"f":1358.56,"v":-0.24},{"f":1358.71,"v":0.1},{"f":1358.87,"v":0.28},{"f":1359.03,"v":0.15},{"f":1359.18,"v":0.06},{"f":1359.34,"v":-0.11},{"f":1359.5,"v":0.1},{"f":1359.65,"v":-0.16},{"f":1359.81,"v":-0.4},{"f":1359.97,"v":-0.2},{"f":1360.12,"v":-0.24},{"f":1360.28,"v":0},{"f":1360.44,"v":0.19},{"f":1360.59,"v":0.41},{"f":1360.7,"v":0.32},{"f":1360.85,"v":0.5},{"f":1361.01,"v":0.72},{"f":1361.17,"v":0.63},{"f":1361.32,"v":0.8},{"f":1361.48,"v":0.58},{"f":1361.58,"v":0.45},{"f":1361.74,"v":0.19},{"f":1361.84,"v":0.06},{"f":1362.0,"v":0},{"f":1362.16,"v":0.1},{"f":1362.31,"v":0.24},{"f":1362.47,"v":0.15},{"f":1362.63,"v":-0.05},{"f":1362.78,"v":0.15},{"f":1362.94,"v":0.06},{"f":1363.1,"v":0.02},{"f":1363.25,"v":0},{"f":1363.41,"v":0.1},{"f":1363.57,"v":0},{"f":1363.72,"v":0.06},{"f":1363.88,"v":0.15},{"f":1364.03,"v":0},{"f":1364.19,"v":0.21},{"f":1364.35,"v":0},{"f":1364.5,"v":0.06},{"f":1364.66,"v":-0.03},{"f":1364.82,"v":-0.16},{"f":1364.97,"v":-0.09},{"f":1365.13,"v":0},{"f":1365.29,"v":-0.05},{"f":1365.44,"v":0.06},{"f":1365.6,"v":0.1},{"f":1365.76,"v":-0.03},{"f":1365.91,"v":0.02},{"f":1366.07,"v":0},{"f":1366.23,"v":0.1},{"f":1366.38,"v":0.15},{"f":1366.54,"v":0.58},{"f":1366.7,"v":-0.03},{"f":1366.85,"v":0.1},{"f":1367.01,"v":0.06},{"f":1367.16,"v":0},{"f":1367.32,"v":0.24},{"f":1367.48,"v":0.5},{"f":1367.63,"v":0.32},{"f":1367.79,"v":0.06},{"f":1367.95,"v":0.1},{"f":1368.1,"v":0},{"f":1368.26,"v":-0.16},{"f":1368.42,"v":-0.2},{"f":1368.57,"v":-0.55},{"f":1368.73,"v":0.06},{"f":1368.89,"v":0.02},{"f":1369.04,"v":0.24},{"f":1369.2,"v":0},{"f":1369.35,"v":0.06},{"f":1369.51,"v":0.03},{"f":1369.67,"v":0.1},{"f":1369.82,"v":0.06}
]
},
"vconcat": [
{
 "width": 533, "height": 306,
 "title": {"text": "A85: (p0+p1)/2 (blue), (p0-p1)/2 (red) \u00a0W=488 kHz"},
 "layer": [
  {"data": {"name": "blueA"}, "transform": [{"filter": "datum.v != null"}],
   "mark": {"type": "errorbar", "thickness": 3, "rule": {"color": "#2a2aff", "opacity": 0.72, "strokeWidth": 3}},
   "encoding": {
    "x": {"field": "f", "type": "quantitative", "scale": {"domain": [1329.15, 1370.8], "nice": false, "zero": false},
      "axis": {"orient": "bottom", "values": [1330,1335,1340,1345,1350,1355,1360,1365,1370], "format": "d", "gridDash": [7, 2000], "labelPadding": 7,
        "title": "Freq - MHz", "titleX": 402, "titleY": 31, "titleAlign": "center", "titleBaseline": "alphabetic", "titleAngle": 0}},
    "y": {"field": "v", "type": "quantitative", "scale": {"domain": [-3, 5], "nice": false, "zero": false},
      "axis": {"orient": "left", "values": [-3,-2,-1,0,1,2,3,4,5], "format": "d", "gridDash": [7, 2000], "labelPadding": 10,
        "title": "(p0+p1)/2 - mJy", "titleFontSize": 14, "titleX": -70, "titleY": 115, "titleAngle": -90, "titleAlign": "center", "titleBaseline": "middle"}},
    "yError": {"field": "e"}
   }},
  {"data": {"name": "blueA"},
   "mark": {"type": "line", "color": "#0000ff", "strokeWidth": 1.5, "invalid": "break-paths-show-domains"},
   "encoding": {
    "x": {"field": "f", "type": "quantitative",
      "axis": {"orient": "top", "values": [1330,1335,1340,1345,1350,1355,1360,1365,1370], "gridDash": [7, 2000], "labels": false, "title": null}},
    "y": {"field": "v", "type": "quantitative",
      "axis": {"orient": "right", "values": [-3,-2,-1,0,1,2,3,4,5], "gridDash": [7, 2000], "labels": false, "title": null}}
   }},
  {"data": {"name": "blueA"}, "transform": [{"filter": "datum.v != null"}],
   "mark": {"type": "point", "shape": "diamond", "filled": true, "color": "#0000ff", "size": 30, "opacity": 1},
   "encoding": {
    "x": {"field": "f", "type": "quantitative",
      "axis": {"orient": "bottom", "values": [1331,1332,1333,1334,1336,1337,1338,1339,1341,1342,1343,1344,1346,1347,1348,1349,1351,1352,1353,1354,1356,1357,1358,1359,1361,1362,1363,1364,1366,1367,1368,1369], "gridDash": [4, 2000], "labels": false, "title": null}},
    "y": {"field": "v", "type": "quantitative",
      "axis": {"orient": "left", "values": [-2.8,-2.6,-2.4,-2.2,-1.8,-1.6,-1.4,-1.2,-0.8,-0.6,-0.4,-0.2,0.2,0.4,0.6,0.8,1.2,1.4,1.6,1.8,2.2,2.4,2.6,2.8,3.2,3.4,3.6,3.8,4.2,4.4,4.6,4.8], "gridDash": [4, 2000], "labels": false, "title": null}}
   }},
  {"data": {"name": "redA"},
   "mark": {"type": "point", "shape": "triangle-up", "filled": false, "color": "#ff2222", "size": 32, "strokeWidth": 1, "opacity": 1},
   "encoding": {
    "x": {"field": "f", "type": "quantitative",
      "axis": {"orient": "top", "values": [1331,1332,1333,1334,1336,1337,1338,1339,1341,1342,1343,1344,1346,1347,1348,1349,1351,1352,1353,1354,1356,1357,1358,1359,1361,1362,1363,1364,1366,1367,1368,1369], "gridDash": [4, 2000], "labels": false, "title": null}},
    "y": {"field": "v", "type": "quantitative",
      "axis": {"orient": "right", "values": [-2.8,-2.6,-2.4,-2.2,-1.8,-1.6,-1.4,-1.2,-0.8,-0.6,-0.4,-0.2,0.2,0.4,0.6,0.8,1.2,1.4,1.6,1.8,2.2,2.4,2.6,2.8,3.2,3.4,3.6,3.8,4.2,4.4,4.6,4.8], "gridDash": [4, 2000], "labels": false, "title": null}}
   }},
  {"data": {"values": [{"x1": 1335, "x2": 1364.3, "y": 2.2}]},
   "mark": {"type": "rule", "color": "#000", "strokeWidth": 2.5, "strokeDash": [9, 5]},
   "encoding": {"x": {"field": "x1", "type": "quantitative", "axis": null}, "x2": {"field": "x2"}, "y": {"field": "y", "type": "quantitative", "axis": null}}},
  {"data": {"values": [{"x": 1335, "y": 2.5, "t": "+3 sigma level"}]},
   "mark": {"type": "text", "align": "left", "baseline": "alphabetic", "font": "Liberation Sans", "fontSize": 13, "fontWeight": "bold", "color": "#000"},
   "encoding": {"x": {"field": "x", "type": "quantitative", "axis": null}, "y": {"field": "y", "type": "quantitative", "axis": null}, "text": {"field": "t"}}}
 ],
 "resolve": {"axis": {"x": "independent", "y": "independent"}}
},
{
 "width": 533, "height": 306,
 "title": {"text": "A1205: (p0+p1)/2 (blue), (p0-p1)/2 (red) \u00a0W=488 kHz", "offset": 1},
 "layer": [
  {"data": {"name": "blueB"}, "transform": [{"filter": "datum.v != null"}],
   "mark": {"type": "errorbar", "thickness": 3, "rule": {"color": "#2a2aff", "opacity": 0.72, "strokeWidth": 3}},
   "encoding": {
    "x": {"field": "f", "type": "quantitative", "scale": {"domain": [1329.15, 1370.8], "nice": false, "zero": false},
      "axis": {"orient": "bottom", "values": [1330,1335,1340,1345,1350,1355,1360,1365,1370], "format": "d", "gridDash": [7, 2000], "labelPadding": 7,
        "title": "Freq - MHz", "titleX": 402, "titleY": 31, "titleAlign": "center", "titleBaseline": "alphabetic", "titleAngle": 0}},
    "y": {"field": "v", "type": "quantitative", "scale": {"domain": [-3, 5], "nice": false, "zero": false},
      "axis": {"orient": "left", "values": [-3,-2,-1,0,1,2,3,4,5], "format": "d", "gridDash": [7, 2000], "labelPadding": 10,
        "title": "(p0+p1)/2 - mJy", "titleFontSize": 14, "titleX": -70, "titleY": 115, "titleAngle": -90, "titleAlign": "center", "titleBaseline": "middle"}},
    "yError": {"field": "e"}
   }},
  {"data": {"name": "blueB"},
   "mark": {"type": "line", "color": "#0000ff", "strokeWidth": 1.5, "invalid": "break-paths-show-domains"},
   "encoding": {
    "x": {"field": "f", "type": "quantitative",
      "axis": {"orient": "top", "values": [1330,1335,1340,1345,1350,1355,1360,1365,1370], "gridDash": [7, 2000], "labels": false, "title": null}},
    "y": {"field": "v", "type": "quantitative",
      "axis": {"orient": "right", "values": [-3,-2,-1,0,1,2,3,4,5], "gridDash": [7, 2000], "labels": false, "title": null}}
   }},
  {"data": {"name": "blueB"}, "transform": [{"filter": "datum.v != null"}],
   "mark": {"type": "point", "shape": "diamond", "filled": true, "color": "#0000ff", "size": 30, "opacity": 1},
   "encoding": {
    "x": {"field": "f", "type": "quantitative",
      "axis": {"orient": "bottom", "values": [1331,1332,1333,1334,1336,1337,1338,1339,1341,1342,1343,1344,1346,1347,1348,1349,1351,1352,1353,1354,1356,1357,1358,1359,1361,1362,1363,1364,1366,1367,1368,1369], "gridDash": [4, 2000], "labels": false, "title": null}},
    "y": {"field": "v", "type": "quantitative",
      "axis": {"orient": "left", "values": [-2.8,-2.6,-2.4,-2.2,-1.8,-1.6,-1.4,-1.2,-0.8,-0.6,-0.4,-0.2,0.2,0.4,0.6,0.8,1.2,1.4,1.6,1.8,2.2,2.4,2.6,2.8,3.2,3.4,3.6,3.8,4.2,4.4,4.6,4.8], "gridDash": [4, 2000], "labels": false, "title": null}}
   }},
  {"data": {"name": "redB"},
   "mark": {"type": "point", "shape": "triangle-up", "filled": false, "color": "#ff2222", "size": 32, "strokeWidth": 1, "opacity": 1},
   "encoding": {
    "x": {"field": "f", "type": "quantitative",
      "axis": {"orient": "top", "values": [1331,1332,1333,1334,1336,1337,1338,1339,1341,1342,1343,1344,1346,1347,1348,1349,1351,1352,1353,1354,1356,1357,1358,1359,1361,1362,1363,1364,1366,1367,1368,1369], "gridDash": [4, 2000], "labels": false, "title": null}},
    "y": {"field": "v", "type": "quantitative",
      "axis": {"orient": "right", "values": [-2.8,-2.6,-2.4,-2.2,-1.8,-1.6,-1.4,-1.2,-0.8,-0.6,-0.4,-0.2,0.2,0.4,0.6,0.8,1.2,1.4,1.6,1.8,2.2,2.4,2.6,2.8,3.2,3.4,3.6,3.8,4.2,4.4,4.6,4.8], "gridDash": [4, 2000], "labels": false, "title": null}}
   }}
 ],
 "resolve": {"axis": {"x": "independent", "y": "independent"}}
}
]
}
